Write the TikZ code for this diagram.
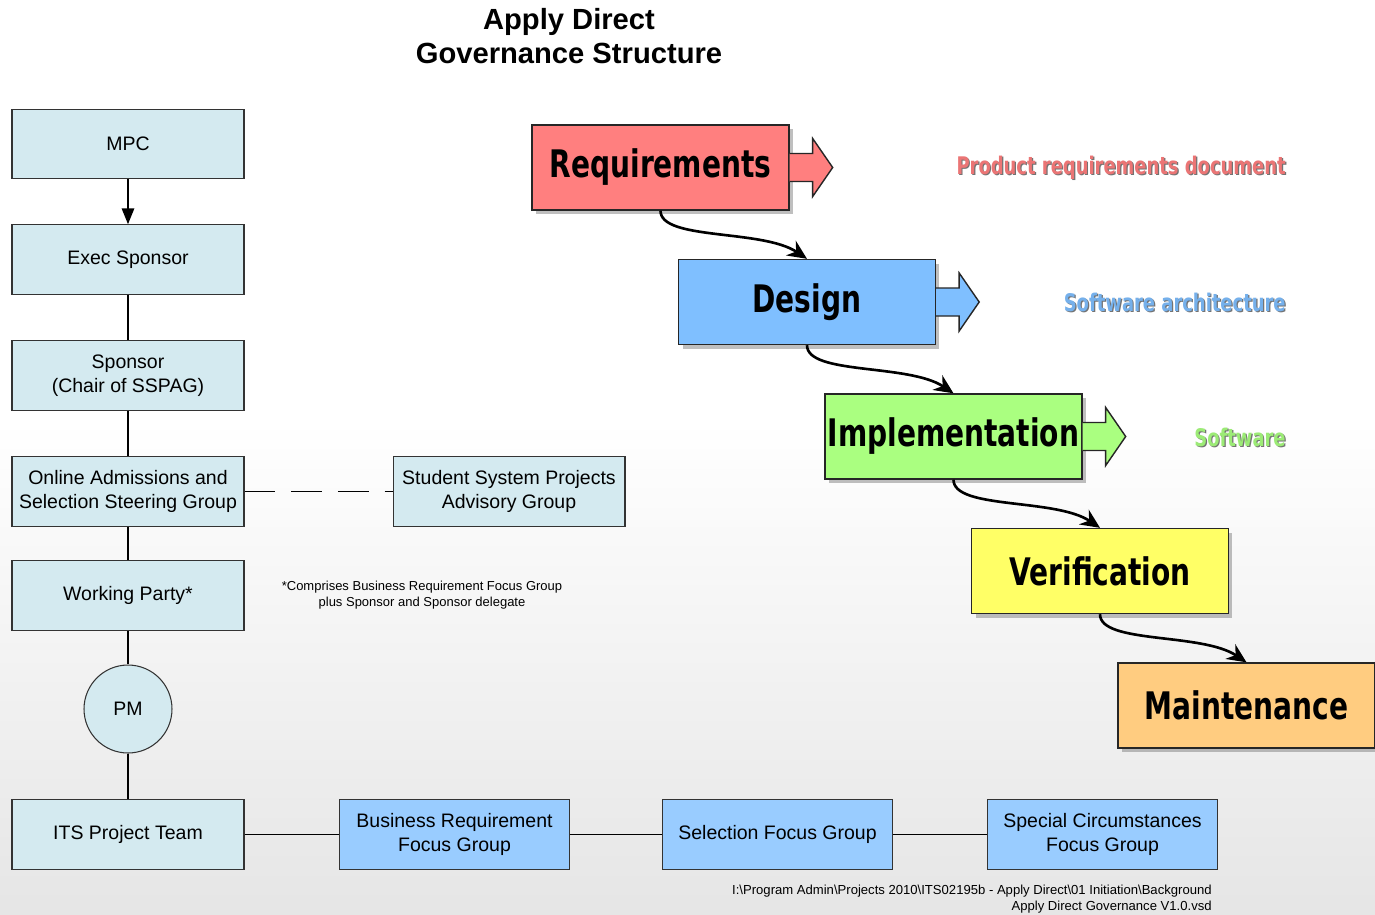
\documentclass[tikz,border=0pt]{standalone}
\usepackage{fontspec}
\setmainfont{Liberation Sans}
\newfontfamily\phasefont[FakeStretch=0.74]{DejaVu Sans}
\usetikzlibrary{arrows.meta,shadows,calc}

\definecolor{govblue}{HTML}{D4EAF0}
\definecolor{focusblue}{HTML}{99CCFF}
\definecolor{reqred}{HTML}{FF7F7F}
\definecolor{desblue}{HTML}{7FBFFF}
\definecolor{impgreen}{HTML}{AAFF80}
\definecolor{veryellow}{HTML}{FFFF66}
\definecolor{mainorange}{HTML}{FFCC80}

\begin{document}
\begin{tikzpicture}[x=0.02cm, y=-0.02cm,
    govbox/.style={draw=black!80, line width=0.6pt, fill=govblue, minimum width=4.64cm, minimum height=1.39cm,
        align=center, inner sep=0pt, font=\fontsize{11.1}{13.6}\selectfont},
    focusbox/.style={govbox, fill=focusblue, minimum width=4.6cm},
    phase/.style={draw=black!85, thick, minimum width=5.14cm, minimum height=1.7cm, inner sep=0pt,
        font=\phasefont\bfseries\fontsize{21.6}{25}\selectfont,
        drop shadow={opacity=0.5, shadow xshift=0.08cm, shadow yshift=-0.08cm}},
    link/.style={black, line width=1.1pt},
    flow/.style={black, line width=1.5pt, -{Stealth[length=11pt,width=10pt]}},
    output/.style={anchor=east, inner sep=0pt, font=\phasefont\bfseries\fontsize{13.8}{16}\selectfont}]

    \useasboundingbox (0,0) rectangle (1375,914);

    % Background, fading to grey towards the bottom
    \fill[white] (0,0) rectangle (1375,914);
    \shade[top color=white, bottom color=black!10] (0,420) rectangle (1375,914);

    % Title
    \node[align=center, font=\bfseries\fontsize{16.6}{19.3}\selectfont] (Title) at (569,36)
        {Apply Direct\\Governance Structure};

    % Governance chain
    \node[govbox] (MPC) at (128,144) {MPC};
    \node[govbox] (ExecSponsor) at (128,259.5) {Exec Sponsor};
    \node[govbox] (Sponsor) at (128,375.5) {Sponsor\\(Chair of SSPAG)};
    \node[govbox] (SteeringGroup) at (128,491.5) {Online Admissions and\\Selection Steering Group};
    \node[govbox] (AdvisoryGroup) at (509,491.5) {Student System Projects\\Advisory Group};
    \node[govbox] (WorkingParty) at (128,595.5) {Working Party*};
    \node[govbox, circle, minimum width=1.76cm, minimum height=1.76cm] (PM) at (128,709) {PM};
    \node[govbox] (ProjectTeam) at (128,834.5) {ITS Project Team};

    % Focus groups along the bottom
    \node[focusbox] (BusinessGroup) at (454.5,834.5) {Business Requirement\\Focus Group};
    \node[focusbox] (SelectionGroup) at (777.5,834.5) {Selection Focus Group};
    \node[focusbox] (SpecialGroup) at (1102.5,834.5) {Special Circumstances\\Focus Group};

    % Links
    \draw[link, -{Triangle[length=9pt,width=7pt]}] (MPC) -- (ExecSponsor);
    \foreach \a/\b in {ExecSponsor/Sponsor, Sponsor/SteeringGroup, SteeringGroup/WorkingParty,
                       WorkingParty/PM, PM/ProjectTeam, ProjectTeam/BusinessGroup,
                       BusinessGroup/SelectionGroup, SelectionGroup/SpecialGroup} {
        \draw[link] (\a) -- (\b);
    }
    \draw[link, dash pattern=on 17.6pt off 9pt] (SteeringGroup) -- (AdvisoryGroup);

    % Notes
    \node[align=center, font=\fontsize{7.4}{9}\selectfont] (Footnote) at (422,595)
        {*Comprises Business Requirement Focus Group\\plus Sponsor and Sponsor delegate};
    \node[anchor=east, align=right, inner sep=0pt, font=\fontsize{7.45}{9}\selectfont] (FilePath) at (1212,899)
        {I:\textbackslash Program Admin\textbackslash Projects 2010\textbackslash ITS02195b - Apply Direct\textbackslash 01 Initiation\textbackslash Background\\
         Apply Direct Governance V1.0.vsd};

    % Waterfall phases
    \foreach \name/\col [count=\i from 0] in {Requirements/reqred, Design/desblue,
            Implementation/impgreen, Verification/veryellow, Maintenance/mainorange} {
        \node[phase, fill=\col] (\name) at (660.5+146.5*\i, 167.5+134.5*\i) {\name};
    }

    % Output arrows
    \foreach \name/\col in {Requirements/reqred, Design/desblue, Implementation/impgreen} {
        \draw[fill=\col, draw=black!85, thick] ($(\name.east)+(0,-14)$) -- ++(23,0) -- ++(0,-15)
            -- ++(20,29) -- ++(-20,29) -- ++(0,-15) -- ++(-23,0);
    }

    % Flow between phases
    \foreach \from/\to in {Requirements/Design, Design/Implementation,
                           Implementation/Verification, Verification/Maintenance} {
        \draw[flow] (\from.south) .. controls +(0,30) and +(-45,-30) .. (\to.north);
    }

    % Phase outputs
    \foreach \name/\txt/\col/\y in {ReqDoc/Product requirements document/reqred/168,
            Architecture/Software architecture/desblue/302, Product/Software/impgreen/437} {
        \node[output, black!55] (\name Shadow) at (1287.2,\y+1.2) {\txt};
        \node[output, \col!92!black] (\name) at (1286,\y) {\txt};
    }

\end{tikzpicture}
\end{document}
